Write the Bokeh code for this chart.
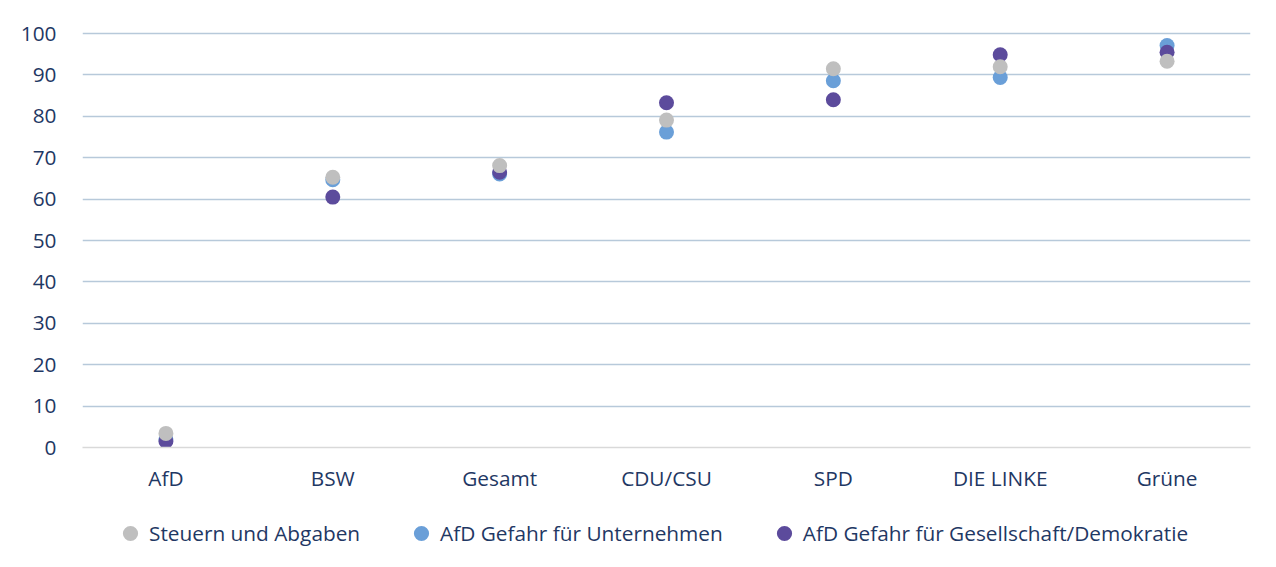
from bokeh.plotting import figure
from bokeh.layouts import column
from bokeh.models import Range1d, Legend, LegendItem, ColumnDataSource, FixedTicker
from bokeh.embed import file_html
from bokeh.resources import INLINE

categories = ["AfD", "BSW", "Gesamt", "CDU/CSU", "SPD", "DIE LINKE", "Grüne"]
steuern = [3.4, 65.3, 68.1, 79.1, 91.5, 92.0, 93.3]
unternehmen = [2.0, 64.7, 66.1, 76.2, 88.6, 89.4, 97.1]
gesellschaft = [1.5, 60.5, 66.5, 83.3, 84.0, 94.9, 95.5]
series_names = ["Steuern und Abgaben", "AfD Gefahr für Unternehmen", "AfD Gefahr für Gesellschaft/Demokratie"]
y_ticks = [0, 10, 20, 30, 40, 50, 60, 70, 80, 90, 100]

TEXT = "#1F3864"
FONT = "Open Sans"
FS = "20.8px"
C_S, C_U, C_G = "#BFBFBF", "#6A9FD8", "#5C4B9C"

p = figure(x_range=categories, y_range=Range1d(0, 100.5), frame_width=1168, frame_height=416,
           output_backend="svg", toolbar_location=None,
           min_border_left=82, min_border_top=31, min_border_right=20, min_border_bottom=0)
p.outline_line_color = None
p.background_fill_color = "white"
p.border_fill_color = "white"

src = ColumnDataSource(dict(cat=categories, s=steuern, u=unternehmen, g=gesellschaft))
p.scatter("cat", "u", source=src, size=15, color=C_U, line_color=None)
p.scatter("cat", "g", source=src, size=15, color=C_G, line_color=None)
p.scatter("cat", "s", source=src, size=15, color=C_S, line_color=None)

p.xgrid.grid_line_color = None
p.ygrid.grid_line_color = "#B7C9DA"
p.ygrid.grid_line_width = 1.5
p.yaxis.ticker = FixedTicker(ticks=y_ticks)

p.yaxis.axis_line_color = None
p.yaxis.major_tick_line_color = None
p.yaxis.minor_tick_line_color = None
p.yaxis.major_label_standoff = 20
p.xaxis.axis_line_color = "#D9D9D9"
p.xaxis.axis_line_width = 1.5
p.xaxis.major_tick_line_color = None
p.xaxis.minor_tick_line_color = None
p.xaxis.major_label_standoff = 10
for ax in (p.xaxis, p.yaxis):
    ax.major_label_text_font = FONT
    ax.major_label_text_font_size = FS
    ax.major_label_text_color = TEXT

# legend strip below the chart (its frame is aligned with the chart frame by the column)
lg = figure(width=1270, height=70, x_range=Range1d(0, 1), y_range=Range1d(0, 1),
            x_axis_type=None, y_axis_type=None, output_backend="svg", toolbar_location=None,
            min_border=0)
lg.outline_line_color = None
lg.grid.visible = False
offscreen = ColumnDataSource(dict(x=[-5], y=[-5]))
l_s = lg.scatter("x", "y", source=offscreen, size=15, color=C_S, line_color=None)
l_u = lg.scatter("x", "y", source=offscreen, size=15, color=C_U, line_color=None)
l_g = lg.scatter("x", "y", source=offscreen, size=15, color=C_G, line_color=None)
legend = Legend(items=[LegendItem(label=series_names[0], renderers=[l_s]),
                       LegendItem(label=series_names[1], renderers=[l_u]),
                       LegendItem(label=series_names[2], renderers=[l_g])],
                orientation="horizontal", location=(29, 12),
                label_text_font=FONT, label_text_font_size=FS, label_text_color=TEXT,
                glyph_width=38, glyph_height=38, label_height=24, label_standoff=-7, spacing=42,
                padding=0, margin=0, border_line_color=None, background_fill_alpha=0)
lg.add_layout(legend, "center")

layout = column(p, lg, spacing=0)
open("out.html", "w").write(file_html(layout, INLINE))
